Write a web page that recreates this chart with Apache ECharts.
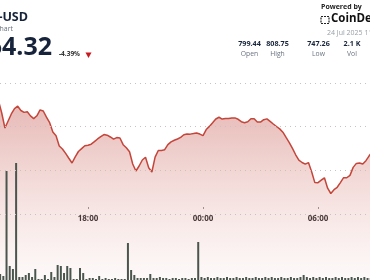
<!DOCTYPE html>
<html><head><meta charset="utf-8">
<script src="https://cdn.jsdelivr.net/npm/echarts@6/dist/echarts.min.js"></script>
<style>html,body{margin:0;padding:0;background:#fff;overflow:hidden}#c{width:370px;height:280px}</style>
</head><body><div id="c"></div>
<script>
// BNB-USD, 10-minute points starting 23 Jul 13:20 (hours counted from 23 Jul 12:00)
const startHour = 1 + 20 / 60;
const stepHours = 10 / 60;
const prices = [
  791.77, 786.27, 779.40, 782.60, 785.81, 788.24, 789.38, 787.41, 786.54, 786.86,
  784.94, 783.66, 784.99, 787.64, 787.18, 784.34, 781.82, 777.56, 775.87, 771.15,
  769.78, 767.76, 765.52, 763.36, 766.20, 768.63, 769.96, 771.24, 771.52, 771.98,
  773.12, 774.36, 775.41, 776.37, 776.10, 775.27, 774.31, 775.00, 774.82, 771.75,
  770.33, 768.54, 762.91, 759.70, 761.99, 764.74, 765.97, 761.21, 759.24, 766.02,
  769.09, 769.13, 769.46, 771.79, 773.03, 773.76, 774.36, 775.09, 776.28, 776.65,
  776.58, 776.83, 777.11, 776.61, 775.92, 778.66, 780.13, 781.78, 783.52, 784.30,
  783.48, 783.75, 783.70, 783.98, 784.02, 783.38, 782.28, 781.82, 782.25, 783.61,
  783.66, 782.15, 782.11, 783.20, 783.57, 782.42, 781.23, 780.08, 778.98, 777.47,
  775.05, 772.71, 770.05, 767.12, 764.69, 763.59, 762.81, 763.55, 759.33, 754.38,
  754.34, 755.48, 756.58, 751.82, 749.39, 751.13, 752.23, 754.38, 756.63, 756.60,
  757.68, 761.35, 763.18, 763.36, 762.91, 764.42, 766.66, 768.40
];
const volumes = [
  6, 4, 109, 14, 11, 117, 3, 3, 5, 7,
  3, 11, 1, 1, 5, 1, 8, 3, 15, 14,
  7, 14, 12, 1, 1, 12, 7, 1, 2, 2,
  1, 4, 1, 2, 1, 1, 2, 1, 1, 1,
  37, 10, 5, 2, 2, 2, 2, 6, 2, 2,
  3, 2, 2, 1, 2, 2, 1, 2, 2, 1,
  2, 2, 38, 3, 2, 3, 2, 2, 3, 2,
  2, 3, 2, 2, 3, 2, 2, 3, 2, 2,
  3, 2, 2, 3, 2, 3, 2, 2, 3, 2,
  2, 3, 2, 2, 3, 5, 3, 2, 3, 2,
  3, 2, 3, 2, 2, 3, 2, 3, 2, 2,
  3, 2, 3, 2, 3, 2, 2, 3
];
const tickHours = [6, 12, 18];
const gridPrices = [740, 760, 780, 800];
const statValues = ['799.44', '808.75', '747.26', '2.1 K'];
const statLabels = ['Open', 'High', 'Low', 'Vol'];

const xMin = 1.4095, xMax = 20.711;
const priceData = prices.map((p, i) => [startHour + i * stepHours, p]);
const volData = volumes.map((v, i) => [startHour + i * stepHours + stepHours / 2, v]);
const pad = n => (n < 10 ? '0' : '') + n;
const fmtHour = h => pad(((Math.round(h) + 12) % 24)) + ':00';

const navy = '#16233a';
const statX = [249.5, 277.5, 318.5, 352];
const graphics = [
  { type: 'text', x: 28, y: 11, style: { text: 'BNB-USD', font: 'bold 12.5px "Open Sans"', fill: navy, textAlign: 'right' } },
  { type: 'text', x: 13, y: 25, style: { text: 'BNB Price Chart', font: '7px "Open Sans"', fill: '#6b7280', textAlign: 'right' } },
  { type: 'text', x: 52, y: 35, style: { text: '764.32', font: 'bold 25px "Open Sans"', fill: navy, textAlign: 'right' } },
  { type: 'text', x: 59, y: 51, style: { text: '-4.39%', font: 'bold 6.5px "Open Sans"', fill: '#333', textAlign: 'left' } },
  { type: 'polygon', shape: { points: [[85.5, 52.5], [91.5, 52.5], [88.5, 58]] }, style: { fill: '#c8191e' } },
  { type: 'text', x: 321, y: 3, style: { text: 'Powered by', font: 'bold 7px "Open Sans"', fill: '#222', textAlign: 'left' } },
  { type: 'rect', shape: { x: 321, y: 16.5, width: 8, height: 7 }, style: { fill: 'none', stroke: '#222', lineWidth: 1.2, lineDash: [2, 1] } },
  { type: 'text', x: 331, y: 13, style: { text: 'CoinDesk', font: 'bold 11.5px "Open Sans"', fill: '#111', textAlign: 'left' } },
  { type: 'text', x: 327, y: 29, style: { text: '24 Jul 2025 11:00 UTC', font: '7px "Open Sans"', fill: '#9aa0a6', textAlign: 'left' } }
];
statValues.forEach((v, i) => {
  graphics.push({ type: 'text', x: statX[i], y: 40, style: { text: v, font: 'bold 7.2px "Open Sans"', fill: navy, textAlign: 'center' } });
  graphics.push({ type: 'text', x: statX[i], y: 51, style: { text: statLabels[i], font: '6.8px "Open Sans"', fill: '#6b7280', textAlign: 'center' } });
});

const chart = echarts.init(document.getElementById('c'), null, { renderer: 'canvas' });
chart.setOption({
  animation: false,
  backgroundColor: '#fff',
  grid: [
    { left: 0, right: 0, top: 83, bottom: 0 },
    { left: 0, right: 0, top: 160, bottom: 0 },
    { left: 0, right: 0, top: 0, bottom: 73 }
  ],
  xAxis: [
    { type: 'value', gridIndex: 0, min: xMin, max: xMax, show: false },
    { type: 'value', gridIndex: 1, min: xMin, max: xMax, show: false },
    { type: 'value', gridIndex: 2, min: xMin, max: xMax, axisLine: { show: false },
      splitLine: { show: false },
      axisTick: { show: true, length: 2, lineStyle: { color: '#999' }, customValues: tickHours },
      axisLabel: { customValues: tickHours, formatter: fmtHour, margin: 8, fontSize: 8, fontWeight: 'bold', color: '#333', fontFamily: '"Open Sans"' } }
  ],
  yAxis: [
    { type: 'value', gridIndex: 0, min: 709.77, max: 800, show: false },
    { type: 'value', gridIndex: 1, min: 0, max: 120, show: false },
    { type: 'value', gridIndex: 2, min: 0, max: 1, show: false }
  ],
  graphic: graphics,
  series: [
    {
      type: 'line', xAxisIndex: 0, yAxisIndex: 0, data: priceData, symbol: 'none',
      lineStyle: { color: '#c4453a', width: 1.5 },
      areaStyle: { color: new echarts.graphic.LinearGradient(0, 0, 0, 1, [
        { offset: 0, color: 'rgba(190,70,60,0.55)' },
        { offset: 0.55, color: 'rgba(200,90,80,0.25)' },
        { offset: 1, color: 'rgba(210,120,110,0.06)' }
      ]) },
      markLine: { silent: true, symbol: 'none', label: { show: false },
        lineStyle: { color: '#c9c2c0', type: [1, 4], width: 1 },
        data: gridPrices.map(p => ({ yAxis: p })) },
      z: 2
    },
    {
      type: 'bar', xAxisIndex: 1, yAxisIndex: 1, data: volData, barWidth: 2,
      itemStyle: { color: '#4a554e' }, z: 3
    }
  ]
});
</script>
</body></html>
